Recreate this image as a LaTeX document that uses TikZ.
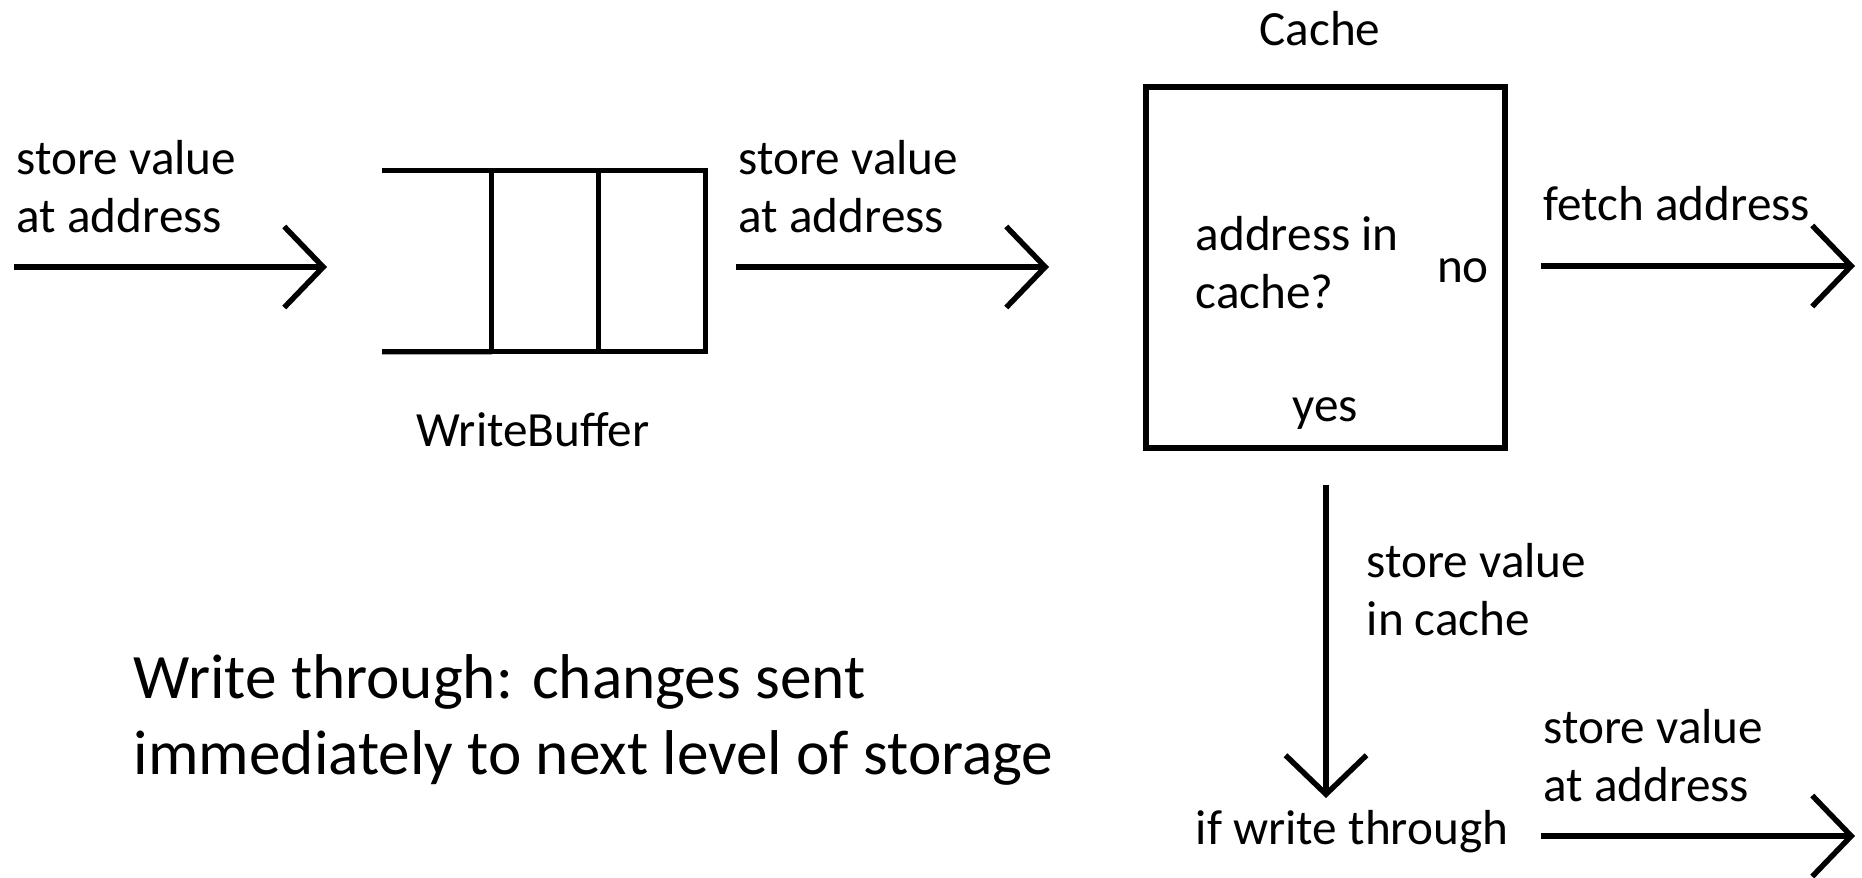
\documentclass[tikz,border=0pt]{standalone}
\usepackage{fontspec}
\setmainfont{Carlito}
\usepackage{tikz}
\usetikzlibrary{arrows.meta}

\begin{document}
\begin{tikzpicture}[line width=1.55pt,
  txt/.style={font=\fontsize{14}{16.5}\selectfont, inner sep=0pt, align=left, anchor=west},
  bigtxt/.style={font=\fontsize{18}{21.6}\selectfont, inner sep=0pt, align=left, anchor=west},
  flow/.style={-{Straight Barb[length=0.39cm,width=0.81cm]}},
  cell/.style={draw, minimum width=1.065cm, minimum height=1.815cm, inner sep=0pt, outer sep=0pt}]
                        \useasboundingbox (0,0) rectangle (18.62,-8.77);
                        % Nodes
                        \node[txt] (in) at (0.14,-1.87) {store value\\at address};
                        \node[cell] (c1) at (5.45,-2.61) {};
                        \node[cell] (c2) at (6.52,-2.61) {};
                        \node[txt, anchor=center] (wb) at (5.33,-4.30) {WriteBuffer};
                        \node[txt] (mid) at (7.36,-1.87) {store value\\at address};
                        \node[draw, minimum width=3.59cm, minimum height=3.61cm] (cache) at (13.255,-2.675) {};
                        \node[txt, anchor=center] (title) at (13.2,-0.29) {Cache};
                        \node[txt] (query) at (11.93,-2.63) {address in\\cache?};
                        \node[txt, anchor=center] (no) at (14.63,-2.71) {no};
                        \node[txt, anchor=center] (yes) at (13.25,-4.14) {yes};
                        \node[txt] (fetch) at (15.41,-2.04) {fetch address};
                        \node[txt] (incache) at (13.64,-5.9) {store value\\in cache};
                        \node[txt, anchor=center] (wt) at (13.52,-8.32) {if write through};
                        \node[txt] (out) at (15.41,-7.56) {store value\\at address};
                        \node[bigtxt] (note) at (1.31,-7.2) {Write through: changes sent\\immediately to next level of storage};

                        % Coordinates
                        \coordinate (a1) at (0.14,-2.67);
                        \coordinate (b1) at (3.27,-2.67);
                        \coordinate (top) at (3.82,-1.7025);
                        \coordinate (bot) at (3.82,-3.5175);
                        \coordinate (a2) at (7.36,-2.67);
                        \coordinate (b2) at (10.49,-2.67);
                        \coordinate (a3) at (15.41,-2.66);
                        \coordinate (b3) at (18.55,-2.66);
                        \coordinate (a4) at (13.26,-4.845);
                        \coordinate (b4) at (13.26,-7.98);
                        \coordinate (a5) at (15.41,-8.36);
                        \coordinate (b5) at (18.55,-8.36);

                        % Edges
                        \draw[-] (top) -- (c1.north west);
                        \draw[-] (bot) -- (c1.south west);
                        \draw[flow] (a1) -- (b1);
                        \draw[flow] (a2) -- (b2);
                        \draw[flow] (a3) -- (b3);
                        \draw[flow] (a4) -- (b4);
                        \draw[flow] (a5) -- (b5);
                    \end{tikzpicture}
\end{document}
